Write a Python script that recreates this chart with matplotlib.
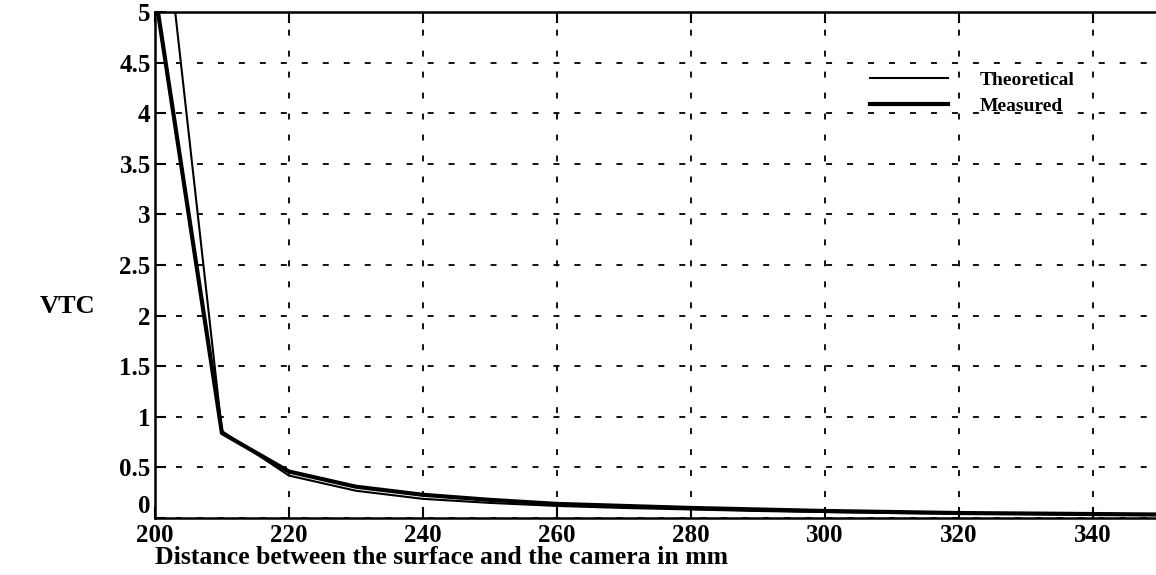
import matplotlib
matplotlib.use('Agg')
from matplotlib import pyplot as plt
import numpy as np

# distance between surface and camera (mm)
distance = [200, 210, 220, 230, 240, 250, 260, 270, 280, 290, 300, 310, 320, 330, 340, 350]
theoretical = [6.8, 0.86, 0.42, 0.27, 0.19, 0.15, 0.12, 0.10, 0.085, 0.07, 0.06, 0.05, 0.045, 0.04, 0.035, 0.03]
measured = [5.2, 0.84, 0.46, 0.31, 0.23, 0.18, 0.14, 0.12, 0.10, 0.085, 0.07, 0.06, 0.05, 0.045, 0.04, 0.035]

x_ticks = [200, 220, 240, 260, 280, 300, 320, 340]
y_ticks = [0, 0.5, 1, 1.5, 2, 2.5, 3, 3.5, 4, 4.5, 5]
y_ticklabels = ['0', '0.5', '1', '1.5', '2', '2.5', '3', '3.5', '4', '4.5', '5']

plt.rcParams['font.family'] = 'Liberation Serif'
plt.rcParams['font.weight'] = 'bold'
plt.rcParams['lines.scale_dashes'] = False

fig = plt.figure(figsize=[11.56, 5.75], dpi=100)
ax = fig.add_axes([0.134, 0.099, 1160 / 1156 - 0.134, 0.979 - 0.099])

ax.plot(distance, theoretical, color='black', lw=1.5, label='Theoretical')
ax.plot(distance, measured, color='black', lw=3.0, label='Measured')

ax.set_xlim(200, 350)
ax.set_ylim(0, 5)
ax.set_xticks(x_ticks)
ax.set_yticks(y_ticks)
ax.set_yticklabels(y_ticklabels)
ax.grid(True, color='black', lw=1.3, linestyle=(0, (4.3, 10.8)))

ax.tick_params(direction='in', length=8, width=1.5, labelsize=18, top=True, pad=3)
ax.tick_params(axis='x', pad=4)
for side in ['left', 'top', 'bottom']:
    ax.spines[side].set_linewidth(1.8)
ax.spines['right'].set_visible(False)

# lift the "0" so it sits above the "200" label
ax.get_yticklabels()[0].set_va('bottom')

fig.text(0.034, 0.467, 'VTC', fontsize=19, fontweight='bold', va='center')
fig.text(0.134, 0.031, 'Distance between the surface and the camera in mm',
         fontsize=18.5, fontweight='bold', va='center')

leg = ax.legend(loc='upper left', bbox_to_anchor=(870 / 1156, 1 - 71 / 575),
                bbox_transform=fig.transFigure, frameon=False, fontsize=14,
                handlelength=4.0, handletextpad=1.65, borderpad=0, borderaxespad=0,
                labelspacing=0.45)

plt.savefig('out.png', dpi=100)
